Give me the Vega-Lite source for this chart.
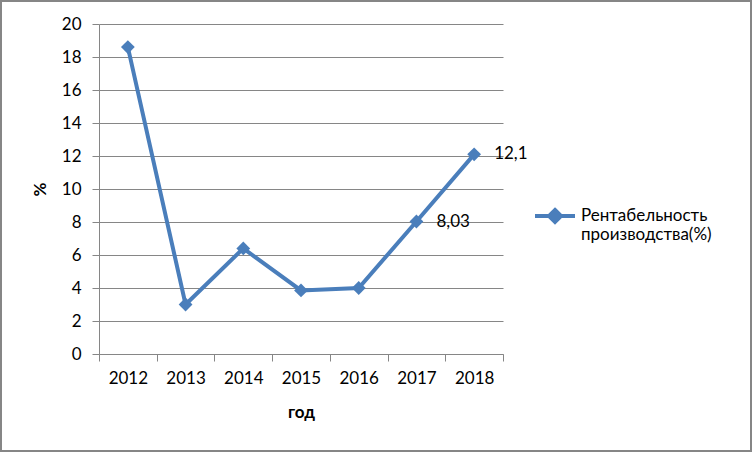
{
  "$schema": "https://vega.github.io/schema/vega-lite/v6.json",
  "width": 752,
  "height": 452,
  "autosize": {"type": "none"},
  "padding": 0,
  "background": "white",
  "config": {
    "view": {"stroke": "#868686", "strokeWidth": 4},
    "font": "Lato",
    "axis": {
      "labelFont": "Lato",
      "titleFont": "Lato",
      "labelFontSize": 17,
      "titleFontSize": 17,
      "labelColor": "#000000",
      "titleColor": "#000000",
      "domainColor": "#868686",
      "tickColor": "#868686",
      "gridColor": "#868686",
      "gridOpacity": 1,
      "domainWidth": 1,
      "tickWidth": 1,
      "gridWidth": 1
    }
  },
  "data": {
    "values": [
      {"year": "2012", "value": 18.6, "label": null},
      {"year": "2013", "value": 3.0, "label": null},
      {"year": "2014", "value": 6.4, "label": null},
      {"year": "2015", "value": 3.85, "label": null},
      {"year": "2016", "value": 4.0, "label": null},
      {"year": "2017", "value": 8.03, "label": "8,03"},
      {"year": "2018", "value": 12.1, "label": "12,1"}
    ]
  },
  "encoding": {
    "x": {
      "field": "year",
      "type": "ordinal",
      "scale": {"type": "band", "paddingInner": 0, "paddingOuter": 0, "range": [99, 503]},
      "axis": {
        "title": "год",
        "titleFontWeight": "bold",
        "titlePadding": 18,
        "offset": -98,
        "labelAngle": 0,
        "labelPadding": 9,
        "tickSize": 7,
        "tickBand": "extent",
        "grid": false
      }
    },
    "y": {
      "field": "value",
      "type": "quantitative",
      "scale": {"domain": [0, 20], "nice": false, "range": [354, 24]},
      "axis": {
        "title": "%",
        "titleFontWeight": "bold",
        "titlePadding": 12,
        "offset": -99,
        "values": [0, 2, 4, 6, 8, 10, 12, 14, 16, 18, 20],
        "tickSize": 7,
        "labelPadding": 11,
        "grid": true
      }
    }
  },
  "layer": [
    {
      "mark": {"type": "line", "color": "#4A7EBB", "strokeWidth": 4, "point": {"shape": "diamond", "size": 190, "filled": true, "color": "#4A7EBB"}},
      "encoding": {
        "color": {
          "datum": "Рентабельность производства(%)",
          "scale": {"range": ["#4A7EBB"]},
          "legend": {
            "title": null,
            "orient": "none",
            "legendX": 533,
            "legendY": 194,
            "labelFont": "Lato",
            "labelFontSize": 17,
            "labelColor": "#000000",
            "labelExpr": "['Рентабельность', 'производства(%)']",
            "labelLimit": 300,
            "labelOffset": 4,
            "symbolType": "M-1,0L1,0M0,-0.3L0.3,0L0,0.3L-0.3,0Z",
            "symbolSize": 1600,
            "symbolStrokeWidth": 4,
            "symbolFillColor": "#4A7EBB",
            "symbolStrokeColor": "#4A7EBB"
          }
        }
      }
    },
    {
      "transform": [{"filter": "datum.label != null"}],
      "mark": {"type": "text", "align": "left", "baseline": "middle", "dx": 20, "fontSize": 17, "font": "Lato", "color": "#000000"},
      "encoding": {"text": {"field": "label"}}
    }
  ]
}
